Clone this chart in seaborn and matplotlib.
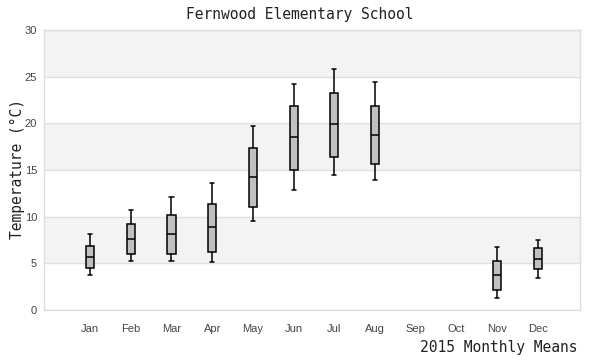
import matplotlib
matplotlib.use("Agg")
import matplotlib.pyplot as plt
import pandas as pd
import seaborn as sns

# five-number summaries: low whisker, Q1, median, Q3, high whisker
months = ["Jan", "Feb", "Mar", "Apr", "May", "Jun", "Jul", "Aug", "Sep", "Oct", "Nov", "Dec"]
low = [3.7, 5.2, 5.2, 5.1, 9.5, 12.9, 14.5, 13.9, None, None, 1.25, 3.4]
q1 = [4.5, 6.0, 6.0, 6.25, 11.0, 15.0, 16.4, 15.6, None, None, 2.1, 4.35]
median = [5.65, 7.6, 8.1, 8.85, 14.2, 18.5, 19.9, 18.7, None, None, 3.75, 5.45]
q3 = [6.8, 9.2, 10.15, 11.4, 17.35, 21.9, 23.3, 21.9, None, None, 5.2, 6.6]
high = [8.1, 10.7, 12.1, 13.6, 19.7, 24.2, 25.8, 24.4, None, None, 6.75, 7.55]

rows = []
for i, m in enumerate(months):
    if median[i] is None:
        continue
    for v in (low[i], q1[i], median[i], q3[i], high[i]):
        rows.append({"month": m, "temp": v})
df = pd.DataFrame(rows)

sns.set_style("white")
plt.rcParams["font.family"] = ["Liberation Sans", "DejaVu Sans"]

fig = plt.figure(figsize=(6, 3.6), dpi=100)
ax = fig.add_axes([0.0733, 0.139, 0.8934, 0.7777])

# alternating horizontal bands
for y0 in range(5, 30, 10):
    ax.axhspan(y0, y0 + 5, color="#f3f3f3", zorder=0, lw=0)

sns.boxplot(
    data=df, x="month", y="temp", order=months, ax=ax,
    whis=(0, 100), width=0.2, color="#c0c0c0", saturation=1,
    linecolor="black", linewidth=1.1,
    medianprops={"color": "black", "linewidth": 1.1},
    capprops={"linewidth": 1.1}, whiskerprops={"linewidth": 1.1},
    showfliers=False,
)

ax.set_ylim(0, 30)
ax.set_xlim(-1.13, 12.03)
ax.set_yticks(range(0, 31, 5))
ax.yaxis.grid(True, color="#e0e0e0", linewidth=1)
ax.set_axisbelow(True)
for s in ax.spines.values():
    s.set_color("#dddddd")
    s.set_linewidth(1)
ax.tick_params(axis="both", length=0, labelsize=8, labelcolor="#444444")
ax.tick_params(axis="x", pad=10)
ax.tick_params(axis="y", pad=5)
ax.set_xlabel("")
ax.set_ylabel("")

mono = "DejaVu Sans Mono"
fig.text(0.5, 0.96, "Fernwood Elementary School", ha="center", va="center",
         fontsize=10.5, family=mono, color="#222222")
fig.text(0.029, 0.53, "Temperature (°C)", ha="center", va="center", rotation=90,
         fontsize=10.5, family=mono, color="#222222")
fig.text(0.963, 0.035, "2015 Monthly Means", ha="right", va="center",
         fontsize=10.5, family=mono, color="#222222")

fig.savefig("out.png", dpi=100)
